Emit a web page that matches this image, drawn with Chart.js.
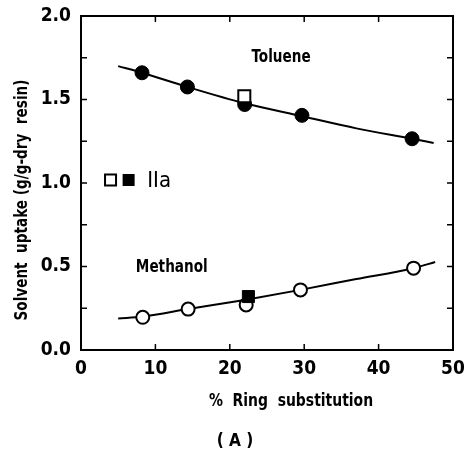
<!DOCTYPE html>
<html>
<head>
<meta charset="utf-8">
<script src="https://cdn.jsdelivr.net/npm/chart.js@4.4.1/dist/chart.umd.min.js"></script>
<style>
  html, body { margin: 0; padding: 0; background: #fff; }
  #wrap { width: 466px; height: 454px; }
</style>
</head>
<body>
<div id="wrap"><canvas id="uptakeChart" width="466" height="454"></canvas></div>
<script>
// Solvent uptake vs % ring substitution (toluene / methanol)

const tolueneX = [8.2, 14.3, 22.0, 29.7, 44.5];
const tolueneY = [1.66, 1.575, 1.47, 1.405, 1.265];
const methanolX = [8.3, 14.4, 22.2, 29.5, 44.7];
const methanolY = [0.196, 0.245, 0.27, 0.36, 0.49];

// resin IIa points
const iiaTolueneX = [21.95];
const iiaTolueneY = [1.52];
const iiaMethanolX = [22.5];
const iiaMethanolY = [0.32];

// fitted curves
const tolueneFitX = [5.0, 8.2, 14.3, 22.0, 29.7, 37.0, 44.5, 47.4];
const tolueneFitY = [1.70, 1.66, 1.575, 1.477, 1.40, 1.327, 1.265, 1.24];
const methanolFitX = [5.0, 8.3, 14.4, 22.0, 29.5, 37.0, 44.7, 47.6];
const methanolFitY = [0.188, 0.20, 0.245, 0.30, 0.36, 0.425, 0.49, 0.527];

const xTicks = [0, 10, 20, 30, 40, 50];
const yTicks = [0, 0.25, 0.5, 0.75, 1.0, 1.25, 1.5, 1.75, 2.0];

const FONT = "'DejaVu Sans Condensed', 'Liberation Sans', sans-serif";

const pts = (xs, ys) => xs.map((x, i) => ({ x, y: ys[i] }));

// squeezed text, the figure uses a narrow face
function narrowText(ctx, text, x, y, sx) {
  ctx.save();
  ctx.translate(x, y);
  ctx.scale(sx, 1);
  ctx.fillText(text, 0, 0);
  ctx.restore();
}

// frame, inward ticks and the free text
const decorations = {
  id: 'decorations',
  afterDraw(chart) {
    const { ctx, chartArea: a, scales: { x, y } } = chart;
    ctx.save();
    ctx.strokeStyle = '#000';
    ctx.lineWidth = 2;
    ctx.strokeRect(a.left, a.top, a.right - a.left, a.bottom - a.top);

    ctx.lineWidth = 1.5;
    ctx.beginPath();
    yTicks.slice(1, -1).forEach(v => {
      const py = y.getPixelForValue(v);
      ctx.moveTo(a.left, py); ctx.lineTo(a.left + 6, py);
      ctx.moveTo(a.right, py); ctx.lineTo(a.right - 6, py);
    });
    xTicks.slice(1, -1).forEach(v => {
      const px = x.getPixelForValue(v);
      ctx.moveTo(px, a.bottom); ctx.lineTo(px, a.bottom - 6);
      ctx.moveTo(px, a.top); ctx.lineTo(px, a.top + 6);
    });
    ctx.stroke();

    ctx.fillStyle = '#000';
    ctx.textAlign = 'center';
    ctx.textBaseline = 'middle';
    ctx.font = `bold 18px ${FONT}`;
    narrowText(ctx, 'Toluene', x.getPixelForValue(26.9), y.getPixelForValue(1.754), 0.84);
    narrowText(ctx, 'Methanol', x.getPixelForValue(12.2), y.getPixelForValue(0.497), 0.84);

    // IIa key
    const ky = y.getPixelForValue(1.018);
    const k1 = x.getPixelForValue(3.97), k2 = x.getPixelForValue(6.4);
    ctx.lineWidth = 2;
    ctx.strokeRect(k1 - 5.5, ky - 5.5, 11, 11);
    ctx.fillRect(k2 - 6, ky - 6, 12, 12);
    ctx.textAlign = 'left';
    ctx.font = `22px ${FONT}`;
    ctx.fillText('IIa', x.getPixelForValue(8.9), ky + 1);

    // axis titles
    ctx.textAlign = 'center';
    ctx.font = `bold 18px ${FONT}`;
    narrowText(ctx, '%  Ring  substitution', 291, 401, 0.86);
    narrowText(ctx, '( A )', 235, 441, 0.95);
    ctx.translate(22, 200);
    ctx.rotate(-Math.PI / 2);
    narrowText(ctx, 'Solvent  uptake (g/g-dry  resin)', 0, 0, 0.84);
    ctx.restore();
  }
};

Chart.defaults.font.family = FONT;
Chart.defaults.color = '#000';

new Chart(document.getElementById('uptakeChart').getContext('2d'), {
  type: 'scatter',
  data: {
    datasets: [
      { label: 'IIa toluene', data: pts(iiaTolueneX, iiaTolueneY), order: 0,
        pointStyle: 'rect', pointRadius: 8.5, backgroundColor: '#fff', borderColor: '#000', borderWidth: 2 },
      { label: 'IIa methanol', data: pts(iiaMethanolX, iiaMethanolY), order: 0,
        pointStyle: 'rect', pointRadius: 8.5, backgroundColor: '#000', borderColor: '#000', borderWidth: 1 },
      { label: 'Toluene', data: pts(tolueneX, tolueneY), order: 1,
        pointRadius: 7, backgroundColor: '#000', borderColor: '#000', borderWidth: 1 },
      { label: 'Methanol', data: pts(methanolX, methanolY), order: 1,
        pointRadius: 6.5, backgroundColor: '#fff', borderColor: '#000', borderWidth: 2 },
      { label: 'Toluene fit', data: pts(tolueneFitX, tolueneFitY), order: 2, showLine: true,
        pointRadius: 0, borderColor: '#000', borderWidth: 2, tension: 0.4, cubicInterpolationMode: 'monotone' },
      { label: 'Methanol fit', data: pts(methanolFitX, methanolFitY), order: 2, showLine: true,
        pointRadius: 0, borderColor: '#000', borderWidth: 2, tension: 0.4, cubicInterpolationMode: 'monotone' }
    ]
  },
  options: {
    responsive: false,
    animation: false,
    layout: { padding: { top: 16, right: 13, left: 0, bottom: 0 } },
    plugins: { legend: { display: false }, tooltip: { enabled: false } },
    scales: {
      x: {
        min: 0, max: 50,
        afterBuildTicks: s => { s.ticks = xTicks.map(v => ({ value: v })); },
        afterFit: s => { s.height = 104; },
        grid: { display: false }, border: { display: false },
        ticks: { padding: 0, font: { size: 19, weight: 'bold' }, maxRotation: 0 }
      },
      y: {
        min: 0, max: 2.0,
        afterBuildTicks: s => { s.ticks = yTicks.map(v => ({ value: v })); },
        afterFit: s => { s.width = 81; },
        grid: { display: false }, border: { display: false },
        ticks: {
          padding: 2, font: { size: 19, weight: 'bold' },
          callback: v => (Math.abs(v * 2 - Math.round(v * 2)) < 1e-6 ? v.toFixed(1) : '')
        }
      }
    }
  },
  plugins: [decorations]
});
</script>
</body>
</html>
